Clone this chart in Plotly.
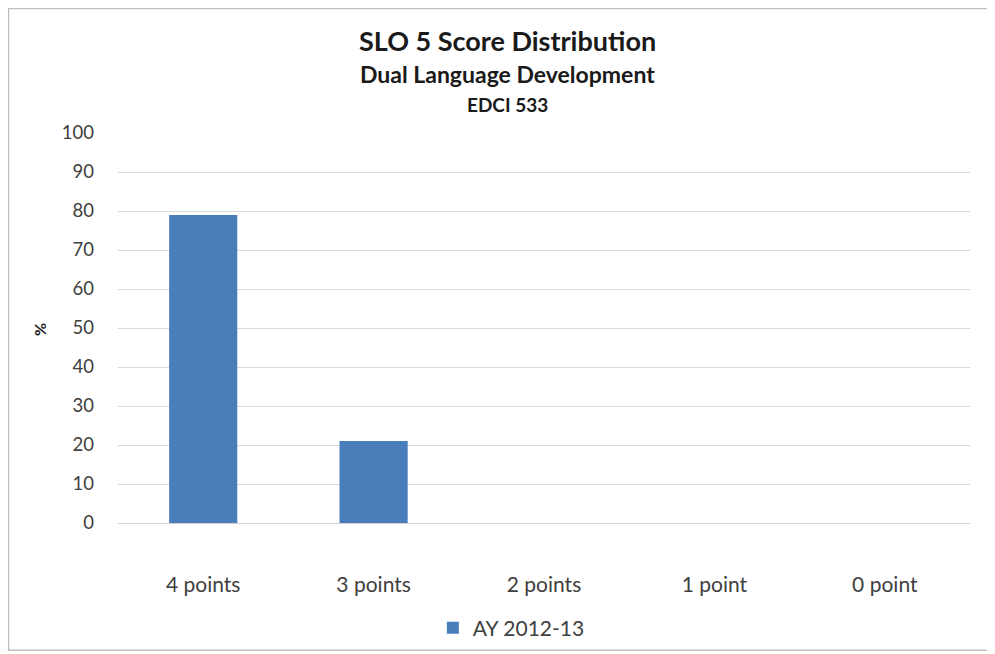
import plotly.graph_objects as go

categories = ["4 points", "3 points", "2 points", "1 point", "0 point"]
values = [79, 21, 0, 0, 0]
series_name = "AY 2012-13"
y_ticks = list(range(0, 101, 10))
title_lines = ["SLO 5 Score Distribution", "Dual Language Development", "EDCI 533"]

font_family = "Lato, 'Open Sans', sans-serif"

fig = go.Figure()
fig.add_trace(go.Bar(
    x=categories, y=values, name=series_name,
    marker=dict(color="#4a7ebb", line=dict(width=0)),
    width=0.4, showlegend=True,
))

annotations = []
for text, yy, size in zip(title_lines, [1.238, 1.151, 1.074], [27, 23, 19]):
    annotations.append(dict(text=f"<b>{text}</b>", xref="paper", yref="paper", x=0.4566, y=yy,
                            xanchor="center", yanchor="middle", showarrow=False,
                            font=dict(size=size, color="#1a1a1a", family=font_family)))
annotations.append(dict(text="<b>%</b>", xref="paper", yref="paper", x=-0.0915, y=0.495,
                        textangle=-90, xanchor="center", yanchor="middle", showarrow=False,
                        font=dict(size=16, color="#1a1a1a", family=font_family)))

# page body has an 8px margin, so the figure is drawn 8px in and down
fig.update_layout(
    width=987, height=646,
    paper_bgcolor="white", plot_bgcolor="white",
    margin=dict(l=110, r=25, t=125, b=131),
    font=dict(family=font_family, size=18, color="#404040"),
    xaxis=dict(
        showgrid=False, showline=True, linecolor="#d0d0d0", ticks="", automargin=False,
        tickfont=dict(size=21, color="#404040"), ticklabelstandoff=43,
    ),
    yaxis=dict(
        range=[0, 100], tickvals=y_ticks, showgrid=True, gridcolor="#d9d9d9",
        zeroline=False, showline=False, ticks="", automargin=False,
        tickfont=dict(size=18.5, color="#404040"), ticklabelstandoff=23,
    ),
    legend=dict(
        orientation="h", xref="container", yref="container", x=0.51, xanchor="center",
        y=0.04, yanchor="middle", font=dict(size=21, color="#404040"),
    ),
    annotations=annotations,
    shapes=[dict(type="rect", xref="paper", yref="paper", x0=-0.1285, x1=1.027, y0=-0.326, y1=1.319,
                 line=dict(color="#bfbfbf", width=1.5))],
)

fig.write_html("out.html")
